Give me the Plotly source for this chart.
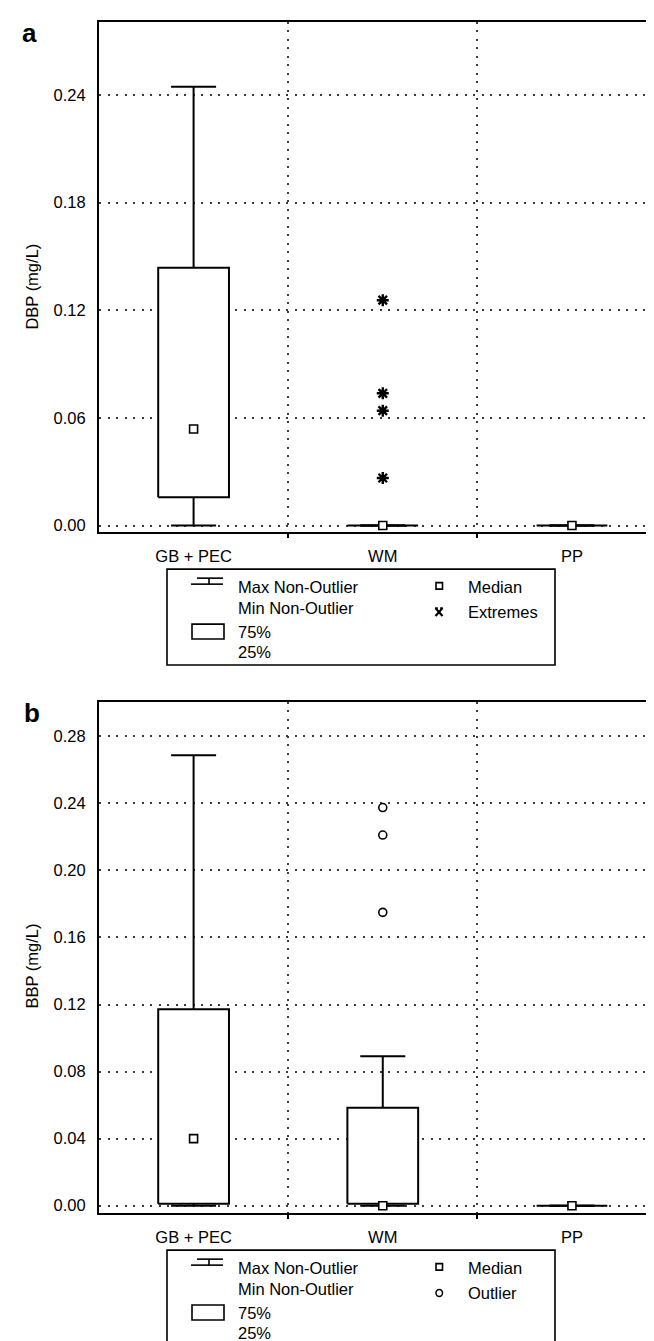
import plotly.graph_objects as go

W, H = 654, 1341

categories = ["GB + PEC", "WM", "PP"]

# Panel a: DBP (mg/L)
dbp_min = [0.0, 0.0, 0.0]
dbp_q1 = [0.0158, 0.0, 0.0]
dbp_median = [0.0538, 0.0, 0.0]
dbp_q3 = [0.1437, 0.0, 0.0]
dbp_max = [0.2446, 0.0, 0.0]
dbp_extremes_wm = [0.1256, 0.0737, 0.0640, 0.0265]
dbp_ticks = [0.0, 0.06, 0.12, 0.18, 0.24]

# Panel b: BBP (mg/L)
bbp_min = [0.0, 0.0, 0.0]
bbp_q1 = [0.0012, 0.0012, 0.0]
bbp_median = [0.040, 0.0, 0.0]
bbp_q3 = [0.1172, 0.0585, 0.0]
bbp_max = [0.2687, 0.0892, 0.0]
bbp_outliers_wm = [0.2375, 0.2211, 0.1750]
bbp_ticks = [0.0, 0.04, 0.08, 0.12, 0.16, 0.20, 0.24, 0.28]

FONT = "Liberation Sans, Arial, sans-serif"
BOX_HW = 0.187
CAP_HW = 0.119
GRID = dict(showgrid=True, gridcolor="#3a3a3a", gridwidth=1.5, griddash="2px,6.5px")


def X(px):
    return px / W


def Y(py):
    return 1 - py / H


fig = go.Figure()


def add_panel(xa, ya, mins, q1s, meds, q3s, maxs, out_vals, out_symbol, out_size, out_width):
    bx, by, wx, wy = [], [], [], []
    for i in range(len(categories)):
        bx += [i - BOX_HW, i + BOX_HW, i + BOX_HW, i - BOX_HW, i - BOX_HW, None]
        by += [q1s[i], q1s[i], q3s[i], q3s[i], q1s[i], None]
        wx += [i, i, None, i - CAP_HW, i + CAP_HW, None,
               i, i, None, i - CAP_HW, i + CAP_HW, None]
        wy += [q3s[i], maxs[i], None, maxs[i], maxs[i], None,
               q1s[i], mins[i], None, mins[i], mins[i], None]
    fig.add_trace(go.Scatter(x=wx, y=wy, mode="lines", xaxis=xa, yaxis=ya,
                             line=dict(color="black", width=2), hoverinfo="skip"))
    fig.add_trace(go.Scatter(x=bx, y=by, mode="lines", fill="toself", fillcolor="white",
                             xaxis=xa, yaxis=ya,
                             line=dict(color="black", width=2), hoverinfo="skip"))
    fig.add_trace(go.Scatter(x=list(range(len(categories))), y=meds, mode="markers",
                             xaxis=xa, yaxis=ya,
                             marker=dict(symbol="square", size=8, color="white",
                                         line=dict(color="black", width=1.6))))
    fig.add_trace(go.Scatter(x=[1] * len(out_vals), y=out_vals, mode="markers",
                             xaxis=xa, yaxis=ya,
                             marker=dict(symbol=out_symbol, size=out_size, color="black",
                                         line=dict(color="black", width=out_width))))


add_panel("x", "y", dbp_min, dbp_q1, dbp_median, dbp_q3, dbp_max,
          dbp_extremes_wm, "asterisk-open", 10, 2.4)
add_panel("x2", "y2", bbp_min, bbp_q1, bbp_median, bbp_q3, bbp_max,
          bbp_outliers_wm, "circle-open", 8, 1.6)


def xaxis_cfg(anchor):
    return dict(domain=[X(91), 1], range=[-0.5, 2.476], anchor=anchor,
                tickmode="array", tickvals=[0, 1, 2], ticktext=categories,
                showgrid=False, zeroline=False, showline=True, linecolor="black",
                linewidth=2, mirror=True, ticks="", ticklabelstandoff=8,
                tickfont=dict(family=FONT, size=16.5, color="black"),
                minor=dict(tickmode="array", tickvals=[0.5, 1.5], ticks="outside",
                           ticklen=4, tickcolor="black", tickwidth=1.5, **GRID))


def yaxis_cfg(anchor, dom, rng, ticks):
    return dict(domain=dom, range=rng, anchor=anchor, tickmode="array",
                tickvals=ticks, ticktext=["%.2f" % t for t in ticks],
                zeroline=False, showline=True, linecolor="black", linewidth=2,
                ticks="", ticklabelstandoff=8,
                tickfont=dict(family=FONT, size=16.5, color="black"), **GRID)


fig.update_layout(
    width=W, height=H, margin=dict(l=0, r=0, t=0, b=0),
    paper_bgcolor="white", plot_bgcolor="white", showlegend=False,
    xaxis=xaxis_cfg("y"),
    yaxis=yaxis_cfg("x", [Y(525), Y(14)], [-0.00373, 0.2807], dbp_ticks),
    xaxis2=xaxis_cfg("y2"),
    yaxis2=yaxis_cfg("x2", [Y(1206.7), Y(695)], [-0.00429, 0.3005], bbp_ticks),
)

shapes = []
annotations = []


def txt(px, py, s, size=16.5, bold=False, angle=0, xanchor="left"):
    annotations.append(dict(x=X(px), y=Y(py), xref="paper", yref="paper",
                            text=("<b>%s</b>" % s) if bold else s,
                            showarrow=False, xanchor=xanchor, yanchor="middle", textangle=angle,
                            font=dict(family=FONT, size=size, color="black")))


def line(x0, y0, x1, y1, w=1.6):
    shapes.append(dict(type="line", xref="paper", yref="paper", x0=X(x0), y0=Y(y0),
                       x1=X(x1), y1=Y(y1), line=dict(color="black", width=w)))


def legend(oy, second_label, kind):
    shapes.append(dict(type="rect", xref="paper", yref="paper", x0=X(159), x1=X(547),
                       y0=Y(562 + oy), y1=Y(658 + oy), line=dict(color="black", width=1.6),
                       fillcolor="rgba(0,0,0,0)"))
    line(189, 571 + oy, 215, 571 + oy)
    line(201, 571 + oy, 201, 577 + oy)
    line(183, 577 + oy, 215, 577 + oy)
    shapes.append(dict(type="rect", xref="paper", yref="paper", x0=X(184), x1=X(216),
                       y0=Y(617 + oy), y1=Y(632 + oy), line=dict(color="black", width=1.6)))
    shapes.append(dict(type="rect", xref="paper", yref="paper", x0=X(428), x1=X(434.5),
                       y0=Y(575.5 + oy), y1=Y(582 + oy), line=dict(color="black", width=1.6)))
    txt(228, 580 + oy, "Max Non-Outlier")
    txt(228, 601 + oy, "Min Non-Outlier")
    txt(228, 625 + oy, "75%")
    txt(228, 645 + oy, "25%")
    txt(458, 580 + oy, "Median")
    txt(458, 605 + oy, second_label)
    cy = 605 + oy
    if kind == "star":
        line(427.5, cy - 4, 434.5, cy + 4, 2.2)
        line(427.5, cy + 4, 434.5, cy - 4, 2.2)
        line(427, cy - 4, 430, cy - 4, 1.5)
        line(432, cy - 4, 435, cy - 4, 1.5)
    else:
        shapes.append(dict(type="circle", xref="paper", yref="paper", x0=X(428), x1=X(434.5),
                           y0=Y(cy - 3.5), y1=Y(cy + 3.5), line=dict(color="black", width=1.5)))


legend(0, "Extremes", "star")
legend(682, "Outlier", "circle")

txt(24, 279, "DBP (mg/L)", angle=-90, xanchor="center")
txt(24, 960, "BBP (mg/L)", angle=-90, xanchor="center")
txt(22, 25, "a", size=26, bold=True, xanchor="center")
txt(24, 706, "b", size=26, bold=True, xanchor="center")

fig.update_layout(shapes=shapes, annotations=annotations)

fig.write_html("out.html")
